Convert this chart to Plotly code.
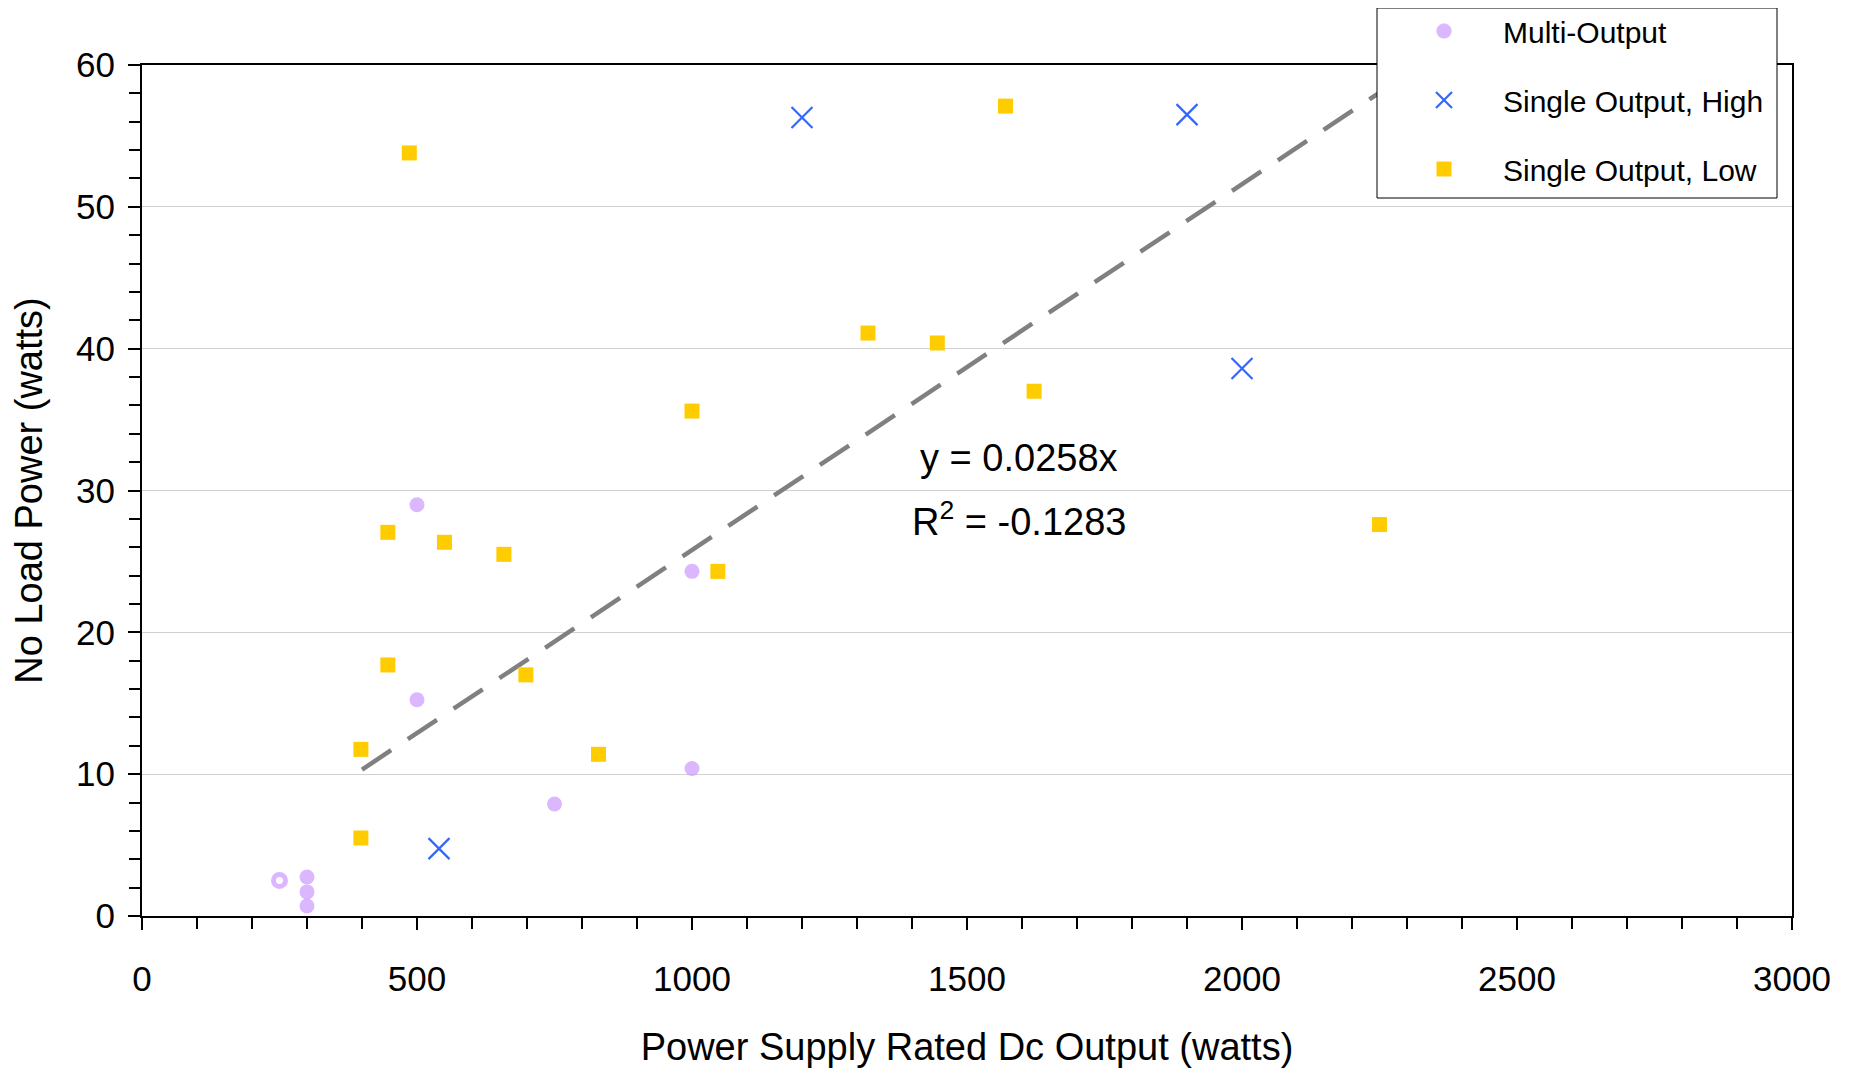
import plotly.graph_objects as go

# ---- data ----
multi_x = [300, 300, 300, 500, 500, 750, 1000, 1000, 250]
multi_y = [2.75, 1.7, 0.7, 29.0, 15.25, 7.9, 24.3, 10.4, 2.5]

high_x = [1200, 1900, 2000, 540]
high_y = [56.3, 56.5, 38.6, 4.75]

low_x = [486, 1570, 1320, 1446, 1622, 1000, 447, 550, 658, 1047, 2250, 447, 698, 398, 830, 398]
low_y = [53.8, 57.1, 41.1, 40.4, 37.0, 35.6, 27.05, 26.35, 25.5, 24.3, 27.6, 17.7, 17.0, 11.75, 11.4, 5.5]

trend_slope = 0.0258
trend_x = [400, 2250]
trend_y = [trend_slope * v for v in trend_x]

eq_text = "y = 0.0258x"
r2_text = "R<sup>2</sup> = -0.1283"

PURPLE = "#CC99FF"
BLUE = "#3366FF"
YELLOW = "#FFCC00"
FONT = "Liberation Sans, Arial, sans-serif"

fig = go.Figure()

fig.add_trace(go.Scatter(
    x=trend_x, y=trend_y, mode="lines", showlegend=False, hoverinfo="skip",
    line=dict(color="#808080", width=4.5, dash="35px,20px"),
))

n_multi = len(multi_x)
fig.add_trace(go.Scatter(
    x=multi_x, y=multi_y, mode="markers", name="Multi-Output", legendgroup="a",
    marker=dict(color=PURPLE, size=[15] * (n_multi - 1) + [12],
                symbol=["circle"] * (n_multi - 1) + ["circle-open"],
                line=dict(color=PURPLE, width=[0] * (n_multi - 1) + [5])),
))
fig.add_trace(go.Scatter(
    x=high_x, y=high_y, mode="markers", name="Single Output, High", legendgroup="b",
    marker=dict(color=BLUE, size=21, symbol="x-thin-open", line=dict(color=BLUE, width=2.2)),
))
fig.add_trace(go.Scatter(
    x=low_x, y=low_y, mode="markers", name="Single Output, Low", legendgroup="c",
    marker=dict(color=YELLOW, size=15, symbol="square", line=dict(width=0)),
))

fig.add_annotation(x=1595, y=32.3, text=eq_text, showarrow=False,
                   font=dict(size=38, color="black", family=FONT))
fig.add_annotation(x=1595, y=28.0, text=r2_text, showarrow=False,
                   font=dict(size=38, color="black", family=FONT))

# page coords (browser body adds 8px offset)
OFF = 8
L, R_, T, B_ = 142, 1792, 65, 916
pw, ph = R_ - L, B_ - T
fig.add_shape(type="rect", xref="paper", yref="paper", layer="above",
              x0=(1377 - L) / pw, x1=(1777 - L) / pw,
              y0=(B_ - 198) / ph, y1=(B_ - 8) / ph,
              fillcolor="white", line=dict(color="black", width=1))

fig.update_layout(
    width=1853, height=1070,
    margin=dict(l=L - OFF, r=1853 - (R_ - OFF), t=T - OFF, b=1070 - (B_ - OFF), autoexpand=False),
    paper_bgcolor="white", plot_bgcolor="white",
    font=dict(family=FONT, color="black"),
    legend=dict(x=(1385 - L) / pw, y=(B_ - 5) / ph, xanchor="left", yanchor="top",
                bgcolor="rgba(0,0,0,0)", borderwidth=0,
                font=dict(size=30, family=FONT, color="black"),
                tracegroupgap=27, itemsizing="trace", itemwidth=108),
    xaxis=dict(range=[0, 3000], dtick=500, tick0=0, showgrid=False, zeroline=False,
               showline=True, linecolor="black", linewidth=2, mirror=True,
               ticks="outside", ticklen=12, tickwidth=1.5, tickcolor="black",
               tickfont=dict(size=35), ticklabelstandoff=19,
               minor=dict(dtick=100, ticks="outside", ticklen=11, tickwidth=1.5, tickcolor="black"),
               title=dict(text="Power Supply Rated Dc Output (watts)", font=dict(size=38), standoff=36)),
    yaxis=dict(range=[0, 60], dtick=10, tick0=0, showgrid=True, gridcolor="#D0D0D0", gridwidth=1,
               zeroline=False, showline=True, linecolor="black", linewidth=2, mirror=True,
               ticks="outside", ticklen=12, tickwidth=1.5, tickcolor="black",
               tickfont=dict(size=35), ticklabelstandoff=6,
               minor=dict(dtick=2, ticks="outside", ticklen=11, tickwidth=1.5, tickcolor="black", showgrid=False),
               title=dict(text="No Load Power (watts)", font=dict(size=38), standoff=25)),
)

fig.write_html("out.html")
